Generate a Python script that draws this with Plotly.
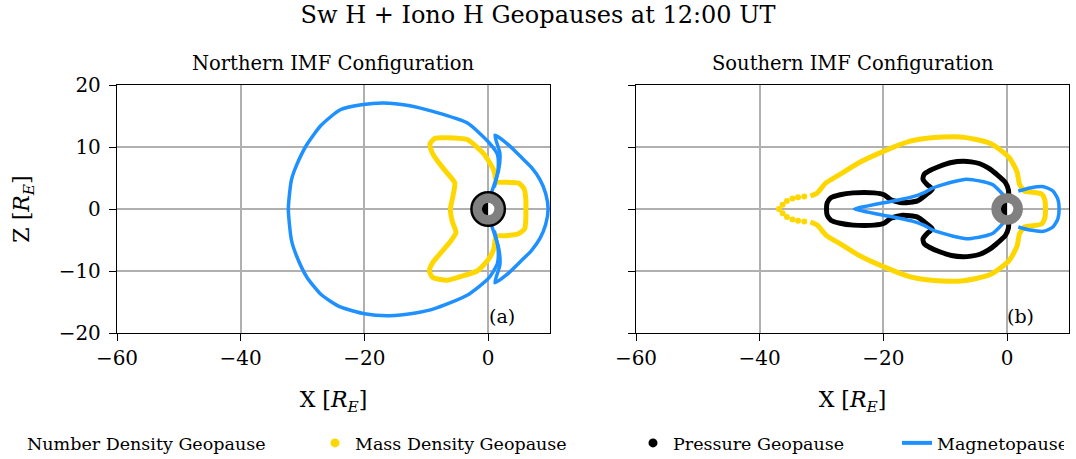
import plotly.graph_objects as go

# ---------------- data (units of Earth radii) ----------------
# Northern IMF: magnetopause, nightside loop
MAG_N_NIGHT_X = [1.0, 1.6, 1.5, 0.05, -3.4, -8.8, -12.9, -16.9, -20.5, -23.9, -27.0, -29.3, -31.0, -31.8, -32.3,
                 -31.8, -31.0, -29.3, -27.0, -23.9, -20.0, -15.9, -12.0, -8.8, -3.4, 0.05, 1.5, 1.6, 1.0]
MAG_N_NIGHT_Z = [3.5, 6.3, 8.8, 10.8, 13.9, 15.7, 16.7, 17.1, 16.8, 16.0, 13.5, 10.4, 7.0, 4.7, 0.0,
                 -5.0, -7.5, -11.0, -13.8, -15.8, -16.9, -17.2, -16.8, -16.1, -13.9, -11.2, -8.8, -6.3, -3.5]
# Northern IMF: magnetopause, dayside loop
MAG_N_DAY_X = [0.5, 1.7, 1.9, 1.1, 3.0, 5.2, 7.0, 8.4, 9.3, 9.7, 9.3, 8.4, 7.0, 5.2, 3.0, 1.1, 1.9, 1.7, 0.5]
MAG_N_DAY_Z = [2.5, 6.3, 9.0, 11.9, 10.6, 8.5, 6.7, 4.7, 2.5, 0.0, -2.5, -4.7, -6.7, -8.5, -10.6, -11.9, -9.0, -6.3, -2.5]
# Northern IMF: mass density geopause
MASS_N_X = [-8.6, -6.7, -3.4, -0.8, 0.9, 1.4, 3.0, 4.9, 5.8, 6.1, 6.1, 6.1, 5.9, 4.9, 3.0, 1.3, 0.9, 0.0, -1.8,
            -4.5, -6.7, -9.0, -9.5, -9.0, -7.6, -6.3, -5.2, -5.8, -6.1, -5.7, -5.4, -6.8, -8.0, -9.0, -9.4, -8.6]
MASS_N_Z = [11.4, 11.5, 11.2, 9.0, 6.3, 4.4, 4.3, 4.2, 3.3, 1.5, 0.0, -1.5, -3.2, -4.0, -4.3, -4.4, -6.5, -8.2, -10.0,
            -10.9, -11.5, -11.0, -10.0, -8.7, -7.0, -5.5, -3.8, -2.0, 0.0, 2.0, 4.2, 6.0, 7.5, 9.0, 10.5, 11.4]
# Northern IMF: pressure geopause hugs the inner boundary (radius)
PRESS_N_R = 2.7

# Southern IMF: magnetopause nightside and dayside
MAG_S_NIGHT_X = [-0.4, -1.2, -2.3, -3.8, -5.5, -6.6, -8.7, -10.5, -12.0, -13.5, -15.2, -17.4, -20.0, -22.5, -24.7,
                 -22.5, -20.0, -17.4, -15.2, -13.5, -12.0, -10.5, -8.7, -6.6, -5.5, -3.8, -2.3, -1.2, -0.4]
MAG_S_NIGHT_Z = [2.0, 2.9, 3.9, 4.4, 4.7, 4.8, 4.4, 3.9, 3.4, 2.6, 2.0, 1.5, 1.0, 0.5, 0.0,
                 -0.5, -1.0, -1.5, -2.0, -2.6, -3.4, -3.9, -4.4, -4.8, -4.7, -4.4, -3.9, -2.9, -2.0]
MAG_S_DAY_X = [1.8, 3.7, 5.9, 7.4, 8.2, 8.4, 8.2, 7.4, 5.9, 3.7, 1.8]
MAG_S_DAY_Z = [2.9, 3.4, 3.6, 2.9, 1.6, 0.0, -1.6, -2.9, -3.6, -3.4, -2.9]
# Southern IMF: mass density geopause (main contour)
MASS_S_X = [-31.8, -30.7, -29.3, -26.5, -23.9, -20.0, -15.8, -13.0, -10.4, -7.5, -5.0, -2.8, -1.2, 0.4, 1.6, 2.0,
            2.8, 4.2, 5.6, 6.1, 6.2, 6.1, 5.6, 4.2, 2.8, 2.0, 1.6, 0.4, -1.2, -2.8, -5.0, -7.5, -10.4, -13.0,
            -15.8, -20.0, -23.9, -26.5, -29.3, -30.7, -31.8]
MASS_S_Z = [2.1, 2.6, 4.2, 5.9, 7.5, 9.3, 10.9, 11.4, 11.6, 11.6, 11.2, 10.6, 9.6, 8.2, 6.0, 4.0,
            2.9, 2.7, 2.4, 1.4, 0.0, -1.4, -2.4, -2.7, -2.9, -4.0, -6.0, -8.2, -9.6, -10.6, -11.2, -11.6, -11.6, -11.4,
            -10.9, -9.3, -7.5, -5.9, -4.2, -2.6, -2.1]
# Southern IMF: mass density geopause (sparse tail points)
MASS_S_TAIL_X = [-32.8, -33.8, -34.7, -35.6, -36.3, -36.9, -36.3, -35.6, -34.7, -33.8, -32.8]
MASS_S_TAIL_Z = [2.0, 1.9, 1.7, 1.3, 0.7, 0.0, -0.7, -1.3, -1.7, -1.9, -2.0]
# Southern IMF: pressure geopause
PRESS_S_X = [0.3, 0.2, -0.3, -1.7, -3.0, -4.4, -5.8, -7.1, -9.0, -10.9, -12.5, -13.4, -13.6, -12.9, -12.1,
             -13.0, -14.5, -16.9, -18.8, -19.9, -21.5, -24.9, -27.0, -28.5, -29.1, -29.2,
             -29.1, -28.5, -27.0, -24.9, -21.5, -19.9, -18.8, -16.9, -14.5, -13.0,
             -12.1, -12.9, -13.6, -13.4, -12.5, -10.9, -9.0, -7.1, -5.8, -4.4, -3.0, -1.7, -0.3, 0.2, 0.3]
PRESS_S_Z = [1.0, 3.1, 4.3, 5.6, 6.6, 7.3, 7.6, 7.7, 7.5, 6.9, 6.2, 5.6, 4.8, 3.9, 3.2,
             2.4, 1.3, 1.0, 1.5, 2.3, 2.6, 2.6, 2.3, 1.8, 1.0, 0.0,
             -1.0, -1.8, -2.3, -2.6, -2.6, -2.3, -1.5, -1.0, -1.3, -2.4,
             -3.2, -3.9, -4.8, -5.6, -6.2, -6.9, -7.5, -7.7, -7.6, -7.3, -6.6, -5.6, -4.3, -3.1, -1.0]

INNER_R = 2.55     # simulation inner boundary
EARTH_R = 1.0

X_TICKS = [-60, -40, -20, 0]
Z_TICKS = [-20, -10, 0, 10, 20]
X_RANGE = [-60, 10]
Z_RANGE = [-20, 20]

LEGEND_NAMES = ["Number Density Geopause", "Mass Density Geopause", "Pressure Geopause", "Magnetopause"]

# ---------------- styling ----------------
FONT = "DejaVu Serif"
YELLOW = "#FFD700"
BLUE = "#1E90FF"
GRAY = "#808080"
W, H = 1076, 459
MB = 40                      # bottom margin (legend lives there)
PH = H - MB                  # paper height in px


def py(p):                   # pixel row -> paper y
    return (PH - p) / PH


fig = go.Figure()


def add(x, z, ax, color, width, mode="lines", size=6):
    xa, ya = ("x", "y") if ax == 1 else ("x2", "y2")
    if mode == "lines":
        fig.add_trace(go.Scatter(x=x, y=z, mode="lines", xaxis=xa, yaxis=ya, showlegend=False,
                                 line=dict(color=color, width=width, shape="spline", smoothing=0.6),
                                 hoverinfo="skip"))
    else:
        fig.add_trace(go.Scatter(x=x, y=z, mode="markers", xaxis=xa, yaxis=ya, showlegend=False,
                                 marker=dict(color=color, size=size), hoverinfo="skip"))


# panel (a)
add(MASS_N_X, MASS_N_Z, 1, YELLOW, 5)
add(MAG_N_NIGHT_X, MAG_N_NIGHT_Z, 1, BLUE, 3.5)
add(MAG_N_DAY_X, MAG_N_DAY_Z, 1, BLUE, 3.5)
# panel (b)
add(MASS_S_X, MASS_S_Z, 2, YELLOW, 5)
add(MASS_S_TAIL_X, MASS_S_TAIL_Z, 2, YELLOW, 0, mode="markers", size=6)
add(PRESS_S_X, PRESS_S_Z, 2, "black", 5)
add(MAG_S_NIGHT_X, MAG_S_NIGHT_Z, 2, BLUE, 3.5)
add(MAG_S_DAY_X, MAG_S_DAY_Z, 2, BLUE, 3.5)

# legend entries
fig.add_trace(go.Scatter(x=[None], y=[None], mode="markers", name=LEGEND_NAMES[0],
                         marker=dict(color="white", size=9), legendwidth=283))
fig.add_trace(go.Scatter(x=[None], y=[None], mode="markers", name=LEGEND_NAMES[1],
                         marker=dict(color=YELLOW, size=9), legendwidth=273))
fig.add_trace(go.Scatter(x=[None], y=[None], mode="markers", name=LEGEND_NAMES[2],
                         marker=dict(color="black", size=9), legendwidth=219))
fig.add_trace(go.Scatter(x=[None], y=[None], mode="lines", name=LEGEND_NAMES[3],
                         line=dict(color=BLUE, width=4), legendwidth=122))

# Earth + inner boundary shapes
k = 0.5523
shapes = []
for xr, yr, press in (("x", "y", PRESS_N_R), ("x2", "y2", None)):
    shapes.append(dict(type="circle", xref=xr, yref=yr, x0=-INNER_R, x1=INNER_R, y0=-INNER_R, y1=INNER_R,
                       fillcolor=GRAY, line=dict(width=0), layer="above"))
    if press is not None:
        shapes.append(dict(type="circle", xref=xr, yref=yr, x0=-press, x1=press, y0=-press, y1=press,
                           line=dict(color="black", width=2.5), layer="above"))
    shapes.append(dict(type="circle", xref=xr, yref=yr, x0=-EARTH_R, x1=EARTH_R, y0=-EARTH_R, y1=EARTH_R,
                       fillcolor="white", line=dict(width=0), layer="above"))
    r = EARTH_R
    path = (f"M 0,{r} C {-k*r},{r} {-r},{k*r} {-r},0 C {-r},{-k*r} {-k*r},{-r} 0,{-r} Z")
    shapes.append(dict(type="path", xref=xr, yref=yr, path=path, fillcolor="black",
                       line=dict(width=0), layer="above"))

axis_common = dict(showgrid=True, gridcolor="#b0b0b0", gridwidth=1.5, zeroline=False,
                   showline=True, linecolor="black", linewidth=1.3, mirror=True,
                   ticks="outside", ticklen=7, tickwidth=1.3, tickcolor="black",
                   tickfont=dict(family=FONT, size=20, color="black"))

xa = dict(axis_common, range=X_RANGE, tickvals=X_TICKS,
          title=dict(text="X [<i>R</i><sub><i>E</i></sub>]", font=dict(family=FONT, size=22, color="black"),
                     standoff=22))
ya = dict(axis_common, range=Z_RANGE, tickvals=Z_TICKS)

fig.update_layout(
    width=W, height=H, margin=dict(l=0, r=0, t=0, b=MB, autoexpand=False),
    paper_bgcolor="white", plot_bgcolor="white",
    shapes=shapes,
    xaxis=dict(xa, domain=[117 / W, 550 / W], anchor="y"),
    xaxis2=dict(xa, domain=[636 / W, 1069 / W], anchor="y2"),
    yaxis=dict(ya, domain=[py(333), py(85)], anchor="x", ticklabelstandoff=4,
               title=dict(text="Z [<i>R</i><sub><i>E</i></sub>]", font=dict(family=FONT, size=22, color="black"),
                          standoff=22)),
    yaxis2=dict(ya, domain=[py(333), py(85)], anchor="x2", showticklabels=False),
    title=dict(text="Sw H + Iono H Geopauses at 12:00 UT", x=538 / W, xanchor="center",
               y=1 - 15 / H, yanchor="middle", font=dict(family=FONT, size=24, color="black")),
    legend=dict(orientation="h", x=-13 / W, xanchor="left", y=py(443), yanchor="middle",
                font=dict(family=FONT, size=17.5, color="black"), bgcolor="rgba(0,0,0,0)",
                borderwidth=0),
    annotations=[
        dict(text="Northern IMF Configuration", x=333 / W, y=py(63), xref="paper", yref="paper",
             xanchor="center", yanchor="middle", showarrow=False, font=dict(family=FONT, size=19.5, color="black")),
        dict(text="Southern IMF Configuration", x=853 / W, y=py(63), xref="paper", yref="paper",
             xanchor="center", yanchor="middle", showarrow=False, font=dict(family=FONT, size=19.5, color="black")),
        dict(text="(a)", x=0.888, y=0.07, xref="x domain", yref="y domain", showarrow=False,
             xanchor="center", yanchor="middle", font=dict(family=FONT, size=19, color="black")),
        dict(text="(b)", x=0.888, y=0.07, xref="x2 domain", yref="y2 domain", showarrow=False,
             xanchor="center", yanchor="middle", font=dict(family=FONT, size=19, color="black")),
    ],
)

fig.write_html("out.html")
